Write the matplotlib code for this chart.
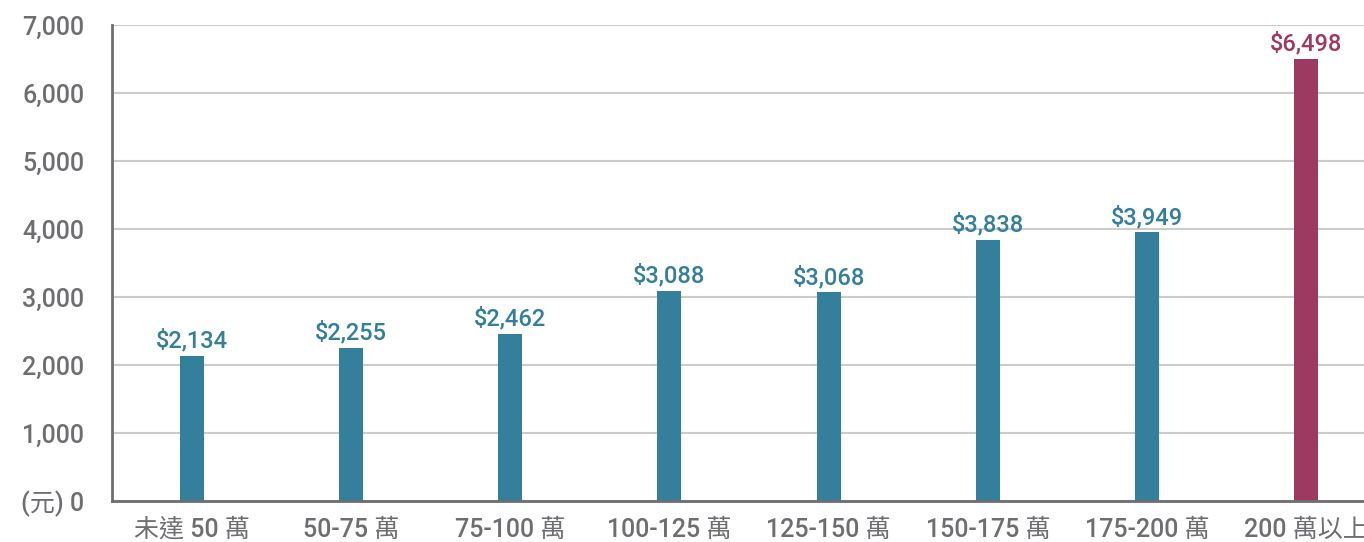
import matplotlib.pyplot as plt
import numpy as np

plt.rcParams['font.family'] = ['Roboto', 'Noto Sans CJK TC', 'DejaVu Sans']
plt.rcParams['font.weight'] = 'medium'

categories = ['未達 50 萬', '50-75 萬', '75-100 萬', '100-125 萬', '125-150 萬',
              '150-175 萬', '175-200 萬', '200 萬以上']
values = [2134, 2255, 2462, 3088, 3068, 3838, 3949, 6498]
yticks = [0, 1000, 2000, 3000, 4000, 5000, 6000, 7000]
ytick_labels = ['(元) 0', '1,000', '2,000', '3,000', '4,000', '5,000', '6,000', '7,000']

teal = '#337f9c'
maroon = '#9e3a62'
gray = '#6d6e71'
colors = [teal] * 7 + [maroon]

fig = plt.figure(figsize=(13.64, 5.42), dpi=100)
ax = fig.add_axes([112 / 1364, 1 - 501 / 542, 1274 / 1364, 476 / 542])

x = np.arange(len(categories))
ax.bar(x, values, width=0.15, color=colors, zorder=3)
for xi, v, c in zip(x, values, colors):
    ax.text(xi, v + 50, f'${v:,}', ha='center', va='bottom',
            color=c, fontsize=17, fontweight='medium')

ax.set_xlim(-0.5, len(categories) - 0.5)
ax.set_ylim(0, 7000)
ax.set_yticks(yticks)
ax.set_yticklabels(ytick_labels)
ax.set_xticks(x)
ax.set_xticklabels(categories)
ax.tick_params(axis='both', length=0, labelsize=18, labelcolor=gray)
ax.tick_params(axis='y', pad=20)
ax.tick_params(axis='x', pad=12)

ax.grid(axis='y', color='#cccccc', linewidth=1.5, zorder=0)
for s in ['top', 'right']:
    ax.spines[s].set_visible(False)
for s in ['left', 'bottom']:
    ax.spines[s].set_color(gray)
    ax.spines[s].set_linewidth(2)
    ax.spines[s].set_zorder(4)

fig.savefig('out.png', dpi=100)
